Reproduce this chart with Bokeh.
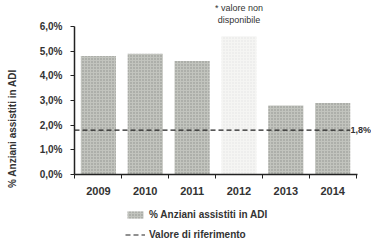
import math
from bokeh.plotting import figure
from bokeh.models import (ColumnDataSource, Range1d, FixedTicker, Label,
                          Legend, LegendItem)
from bokeh.embed import file_html
from bokeh.resources import INLINE

# ---- data ----
years = ["2009", "2010", "2011", "2012", "2013", "2014"]
values = [4.8, 4.9, 4.6, 5.6, 2.8, 2.9]          # 2012 drawn faint ("valore non disponibile")
missing_years = ["2012"]
reference_value = 1.8
y_ticks = [0, 1, 2, 3, 4, 5, 6]
y_tick_labels = ["0,0%", "1,0%", "2,0%", "3,0%", "4,0%", "5,0%", "6,0%"]
series_label = "% Anziani assistiti in ADI"
reference_label = "Valore di riferimento"
reference_text = "1,8%"
note_text = "* valore non\ndisponibile"

# ---- layout constants (pixels) ----
W, H = 371, 252
AX_LEFT, AX_RIGHT = 74, 357        # plot area left/right
AX_TOP, AX_BOTTOM = 26, 174        # y=6 and y=0
Y_MAX = 6.0
X_LO = -0.51
X_HI = len(years) - 0.47
BAR_W = 0.75

FONT = "Liberation Sans"
TXT = "#333333"

px_x = (AX_RIGHT - AX_LEFT) / (X_HI - X_LO)
px_y = (AX_BOTTOM - AX_TOP) / Y_MAX
xr = Range1d(X_LO - AX_LEFT / px_x, X_HI + (W - AX_RIGHT) / px_x)
yr = Range1d(-(H - AX_BOTTOM) / px_y, Y_MAX + AX_TOP / px_y)

xpos = list(range(len(years)))
fills = ["#f5f5f3" if y in missing_years else "#c2c4be" for y in years]
hatch_alpha = [0.1 if y in missing_years else 0.5 for y in years]
src = ColumnDataSource(dict(x=xpos, top=values, fill=fills, ha=hatch_alpha))

p = figure(width=W, height=H, output_backend="svg", toolbar_location=None,
           x_range=xr, y_range=yr,
           min_border_left=0, min_border_right=0, min_border_top=0,
           min_border_bottom=0)
p.outline_line_color = None
p.grid.grid_line_color = None
p.background_fill_color = "white"

# reference text (its first digit tucked at the last bar's edge)
ref_lbl = Label(x=xpos[-1] + 0.38, y=reference_value, text=reference_text,
                text_font=FONT, text_font_size="9px", text_font_style="bold",
                text_color=TXT, text_baseline="middle", level="underlay")
p.add_layout(ref_lbl)

bars = p.vbar(x="x", top="top", width=BAR_W, source=src, fill_color="fill",
              line_color=None, hatch_pattern="dot", hatch_color="#5a5a58",
              hatch_scale=3, hatch_alpha="ha")

ref_line = p.line(x=[X_LO, xpos[-1] + BAR_W / 2],
                  y=[reference_value, reference_value],
                  line_color="#222222", line_width=1.2, line_dash="5 3")

note = Label(x=xpos[years.index("2012")], y=Y_MAX + 2 / px_y, text=note_text,
             text_font=FONT, text_font_size="9px", text_color=TXT,
             text_align="center", text_baseline="bottom", text_line_height=1.15)
p.add_layout(note)

# y-axis title (rotated)
ytitle = Label(x=X_LO - (AX_LEFT - 12) / px_x, y=(AX_BOTTOM - 128) / px_y,
               text=series_label, angle=math.pi / 2,
               text_font=FONT, text_font_size="10px", text_font_style="bold",
               text_color=TXT, text_align="center", text_baseline="middle")
p.add_layout(ytitle)

# axes, pinned to the plot-area edges
p.xaxis.fixed_location = 0
p.xaxis.bounds = (X_LO, X_HI)
p.yaxis.fixed_location = X_LO
p.yaxis.bounds = (0, Y_MAX)
p.xaxis.ticker = FixedTicker(ticks=xpos,
                             minor_ticks=[i - 0.5 for i in range(len(years) + 1)])
p.xaxis.major_label_overrides = {i: y for i, y in zip(xpos, years)}
p.yaxis.ticker = FixedTicker(ticks=y_ticks)
p.yaxis.major_label_overrides = {t: l for t, l in zip(y_ticks, y_tick_labels)}
p.yaxis.minor_tick_line_color = None
for ax in (p.xaxis, p.yaxis):
    ax.axis_line_color = "#222222"
    ax.axis_line_width = 1.5
    ax.major_tick_line_color = "#222222"
    ax.major_tick_out = 4
    ax.major_tick_in = 0
    ax.major_label_text_font = FONT
    ax.major_label_text_font_style = "bold"
    ax.major_label_text_color = TXT
p.xaxis.major_tick_line_color = None
p.xaxis.minor_tick_line_color = "#222222"
p.xaxis.minor_tick_out = 4
p.xaxis.minor_tick_in = 0
p.xaxis.major_label_text_font_size = "11px"
p.yaxis.major_label_text_font_size = "10px"
p.xaxis.major_label_standoff = 8
p.yaxis.major_label_standoff = 8

legend = Legend(items=[LegendItem(label=series_label, renderers=[bars]),
                       LegendItem(label=reference_label, renderers=[ref_line])],
                orientation="vertical", location=(125, 12),
                label_text_font=FONT, label_text_font_size="10px",
                label_text_font_style="bold", label_text_color=TXT,
                border_line_color=None, background_fill_alpha=0,
                glyph_width=20, glyph_height=9, label_height=12,
                label_standoff=4, spacing=8, padding=0, margin=0)
p.add_layout(legend)

open("out.html", "w").write(file_html(p, INLINE))
